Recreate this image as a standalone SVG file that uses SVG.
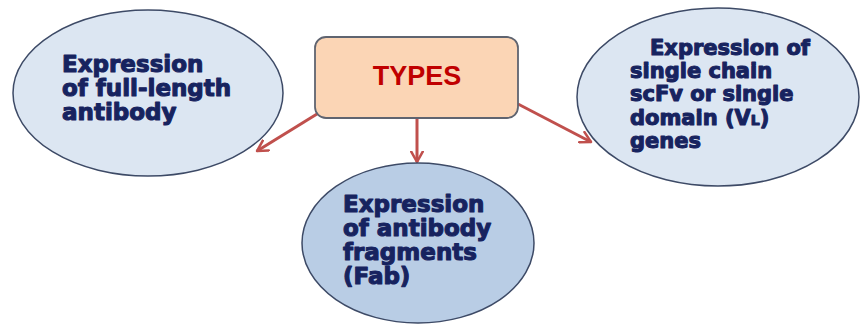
<svg xmlns="http://www.w3.org/2000/svg" width="861" height="327" viewBox="0 0 861 327">
<style>
.ell{fill:#dce6f2;stroke:#3d4a66;stroke-width:1.5}
.ell2{fill:#b9cde5;stroke:#3d4a66;stroke-width:1.5}
.lbl{font-family:"DejaVu Sans","Liberation Sans",sans-serif;font-weight:bold;fill:#17235f;stroke:#17235f;stroke-width:1.1;stroke-linejoin:round}
.conn{stroke:#c0504d;stroke-width:3;fill:none}
</style>
<defs>
<marker id="ah" viewBox="0 0 12 12" refX="10" refY="6" markerWidth="4.6" markerHeight="4.6" orient="auto" markerUnits="strokeWidth">
<path d="M1,1 L10,6 L1,11" fill="none" stroke="#c0504d" stroke-width="2.2" stroke-linecap="round" stroke-linejoin="round"/>
</marker>
</defs>
<rect width="861" height="327" fill="#ffffff"/>
<g id="connectors">
<line class="conn" x1="317" y1="114" x2="257" y2="151" marker-end="url(#ah)"/>
<line class="conn" x1="417" y1="118" x2="417" y2="162" marker-end="url(#ah)"/>
<line class="conn" x1="518" y1="104" x2="591" y2="142" marker-end="url(#ah)"/>
</g>
<g id="node-types">
<rect x="315" y="37" width="203" height="81" rx="11" fill="#fbd5b5" stroke="#5f6470" stroke-width="1.8"/>
<text x="417" y="85" text-anchor="middle" font-family="Liberation Sans, Arial, sans-serif" font-weight="bold" font-size="27" fill="#c00000">TYPES</text>
</g>
<g id="node-full">
<ellipse class="ell" cx="148" cy="93" rx="135" ry="83"/>
<text class="lbl" font-size="23"><tspan x="62" y="72">Expression</tspan><tspan x="62" y="96">of full-length</tspan><tspan x="62" y="120">antibody</tspan></text>
</g>
<g id="node-fab">
<ellipse class="ell2" cx="418" cy="243" rx="116" ry="80"/>
<text class="lbl" font-size="23"><tspan x="343" y="212">Expression</tspan><tspan x="343" y="236">of antibody</tspan><tspan x="343" y="260">fragments</tspan><tspan x="343" y="284">(Fab)</tspan></text>
</g>
<g id="node-scfv">
<ellipse class="ell" cx="718" cy="97" rx="141" ry="89"/>
<text class="lbl" font-size="21"><tspan x="650" y="55">Expression of</tspan><tspan x="630" y="78">single chain</tspan><tspan x="630" y="101">scFv or single</tspan><tspan x="630" y="125">domain (V<tspan font-size="14">L</tspan>)</tspan><tspan x="630" y="148">genes</tspan></text>
</g>
</svg>
